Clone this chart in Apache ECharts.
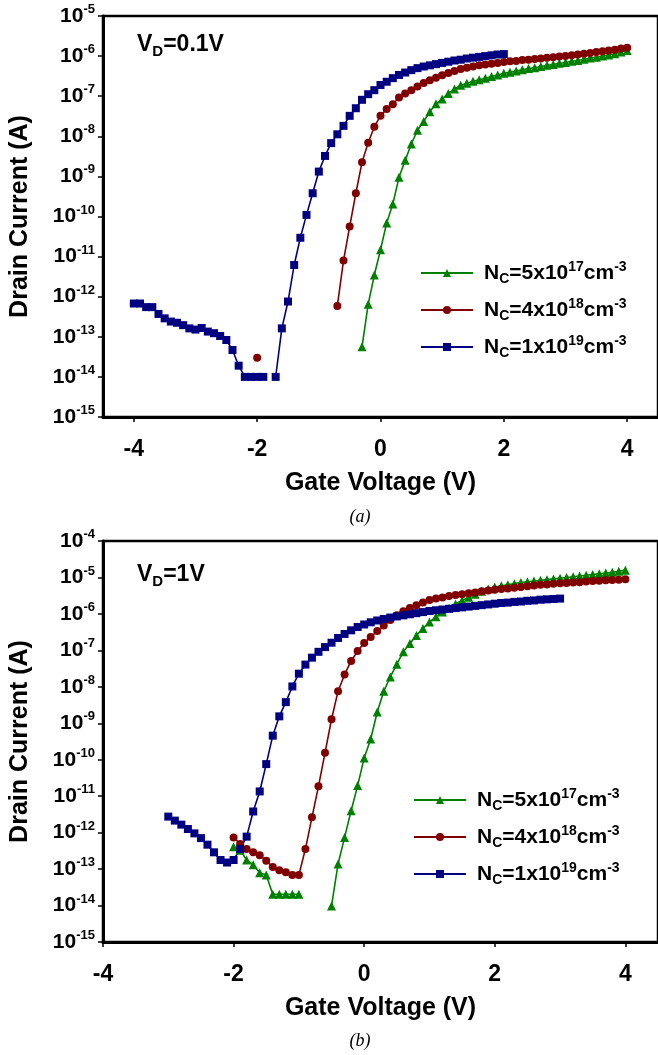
<!DOCTYPE html>
<html><head><meta charset="utf-8">
<script src="https://cdn.jsdelivr.net/npm/echarts@6/dist/echarts.min.js"></script>
<style>html,body{margin:0;padding:0;background:#fff}#c{width:658px;height:1055px}</style>
</head><body><div id="c"></div>
<script>
// ---------- DATA (gate voltage in V, drain current as log10(A)) ----------
const xTickValues = [-4, -2, 0, 2, 4];
const seriesNames = ['g', 'r', 'b'];
const legendLabels = {
  g: '{n|N}{sub|C}{n|=5x10}{sup|17}{n|cm}{sup|-3}',
  r: '{n|N}{sub|C}{n|=4x10}{sup|18}{n|cm}{sup|-3}',
  b: '{n|N}{sub|C}{n|=1x10}{sup|19}{n|cm}{sup|-3}'
};

// (a) VD = 0.1 V
const aBlueV = [-4.0,-3.9,-3.8,-3.7,-3.6,-3.5,-3.4,-3.3,-3.2,-3.1,
  -3.0,-2.9,-2.8,-2.7,-2.6,-2.5,-2.4,-2.3,-2.2,-2.1,
  -2.0,-1.9,-1.8,-1.7,-1.6,-1.5,-1.4,-1.3,-1.2,-1.1,
  -1.0,-0.9,-0.8,-0.7,-0.6,-0.5,-0.4,-0.3,-0.2,-0.1,
  0.0,0.1,0.2,0.3,0.4,0.5,0.6,0.7,0.8,0.9,
  1.0,1.1,1.2,1.3,1.4,1.5,1.6,1.7,1.8,1.9,2.0];
const aBlueLog = [-12.17,-12.17,-12.26,-12.26,-12.43,-12.54,-12.62,-12.65,-12.71,-12.79,
  -12.82,-12.78,-12.87,-12.91,-12.98,-13.08,-13.33,-13.72,-14.0,-14.0,
  -14.0,-14.0,null,-14.0,-12.79,-12.12,-11.21,-10.53,-9.96,-9.42,
  -8.88,-8.49,-8.17,-7.95,-7.74,-7.49,-7.30,-7.09,-6.95,-6.85,
  -6.72,-6.64,-6.55,-6.47,-6.41,-6.35,-6.30,-6.26,-6.23,-6.20,
  -6.17,-6.14,-6.11,-6.09,-6.06,-6.04,-6.02,-6.00,-5.98,-5.96,-5.95];

const aRedV = [-2.0,-1.9,
  -0.7,-0.6,-0.5,-0.4,-0.3,-0.2,-0.1,
  0.0,0.1,0.2,0.3,0.4,0.5,0.6,0.7,0.8,0.9,
  1.0,1.1,1.2,1.3,1.4,1.5,1.6,1.7,1.8,1.9,
  2.0,2.1,2.2,2.3,2.4,2.5,2.6,2.7,2.8,2.9,
  3.0,3.1,3.2,3.3,3.4,3.5,3.6,3.7,3.8,3.9,4.0];
const aRedLog = [-13.52,null,
  -12.23,-11.10,-10.25,-9.42,-8.65,-8.16,-7.76,
  -7.49,-7.32,-7.20,-7.03,-6.93,-6.85,-6.76,-6.67,-6.60,-6.54,
  -6.48,-6.42,-6.37,-6.32,-6.29,-6.26,-6.23,-6.21,-6.19,-6.17,
  -6.15,-6.13,-6.12,-6.10,-6.09,-6.07,-6.06,-6.04,-6.03,-6.01,
  -6.00,-5.98,-5.96,-5.94,-5.92,-5.90,-5.88,-5.86,-5.84,-5.81,-5.79];

const aGreenV = [-0.3,-0.2,-0.1,
  0.0,0.1,0.2,0.3,0.4,0.5,0.6,0.7,0.8,0.9,
  1.0,1.1,1.2,1.3,1.4,1.5,1.6,1.7,1.8,1.9,
  2.0,2.1,2.2,2.3,2.4,2.5,2.6,2.7,2.8,2.9,
  3.0,3.1,3.2,3.3,3.4,3.5,3.6,3.7,3.8,3.9,4.0];
const aGreenLog = [-13.25,-12.19,-11.46,
  -10.83,-10.16,-9.69,-9.02,-8.60,-8.19,-7.85,-7.63,-7.39,-7.19,
  -7.07,-6.93,-6.82,-6.73,-6.68,-6.63,-6.59,-6.55,-6.51,-6.47,
  -6.43,-6.40,-6.37,-6.34,-6.31,-6.29,-6.26,-6.23,-6.21,-6.18,
  -6.16,-6.13,-6.11,-6.08,-6.05,-6.03,-6.00,-5.97,-5.94,-5.90,-5.86];

// (b) VD = 1 V
const bBlueV = [-3.0,-2.9,-2.8,-2.7,-2.6,-2.5,-2.4,-2.3,-2.2,-2.1,
  -2.0,-1.9,-1.8,-1.7,-1.6,-1.5,-1.4,-1.3,-1.2,-1.1,
  -1.0,-0.9,-0.8,-0.7,-0.6,-0.5,-0.4,-0.3,-0.2,-0.1,
  0.0,0.1,0.2,0.3,0.4,0.5,0.6,0.7,0.8,0.9,
  1.0,1.1,1.2,1.3,1.4,1.5,1.6,1.7,1.8,1.9,
  2.0,2.1,2.2,2.3,2.4,2.5,2.6,2.7,2.8,2.9,3.0];
const bBlueLog = [-11.56,-11.67,-11.78,-11.90,-12.02,-12.15,-12.33,-12.54,-12.75,-12.82,
  -12.75,-12.45,-12.11,-11.42,-10.87,-10.12,-9.34,-8.81,-8.42,-7.99,
  -7.64,-7.39,-7.20,-7.04,-6.91,-6.79,-6.66,-6.55,-6.45,-6.36,
  -6.29,-6.23,-6.18,-6.14,-6.10,-6.07,-6.04,-6.01,-5.98,-5.95,
  -5.92,-5.90,-5.88,-5.86,-5.84,-5.82,-5.80,-5.78,-5.76,-5.74,
  -5.72,-5.70,-5.69,-5.67,-5.66,-5.64,-5.63,-5.61,-5.60,-5.59,-5.58];

const bRedV = [-2.0,-1.9,-1.8,-1.7,-1.6,-1.5,-1.4,-1.3,-1.2,-1.1,
  -1.0,-0.9,-0.8,-0.7,-0.6,-0.5,-0.4,-0.3,-0.2,-0.1,
  0.0,0.1,0.2,0.3,0.4,0.5,0.6,0.7,0.8,0.9,
  1.0,1.1,1.2,1.3,1.4,1.5,1.6,1.7,1.8,1.9,
  2.0,2.1,2.2,2.3,2.4,2.5,2.6,2.7,2.8,2.9,
  3.0,3.1,3.2,3.3,3.4,3.5,3.6,3.7,3.8,3.9,4.0];
const bRedLog = [-12.13,-12.31,-12.45,-12.54,-12.62,-12.77,-12.94,-13.03,-13.09,-13.16,
  -13.16,-12.45,-11.58,-10.73,-9.81,-8.89,-8.12,-7.66,-7.29,-7.02,
  -6.80,-6.63,-6.47,-6.32,-6.17,-6.04,-5.93,-5.84,-5.76,-5.69,
  -5.62,-5.58,-5.55,-5.51,-5.48,-5.46,-5.43,-5.41,-5.38,-5.36,
  -5.34,-5.32,-5.30,-5.28,-5.26,-5.24,-5.22,-5.20,-5.19,-5.17,
  -5.16,-5.15,-5.14,-5.13,-5.11,-5.10,-5.09,-5.08,-5.07,-5.06,-5.05];

const bGreenV = [-2.0,-1.9,-1.8,-1.7,-1.6,-1.5,-1.4,-1.3,-1.2,-1.1,-1.0,
  -0.9,
  -0.5,-0.4,-0.3,-0.2,-0.1,
  0.0,0.1,0.2,0.3,0.4,0.5,0.6,0.7,0.8,0.9,
  1.0,1.1,1.2,1.3,1.4,1.5,1.6,1.7,1.8,1.9,
  2.0,2.1,2.2,2.3,2.4,2.5,2.6,2.7,2.8,2.9,
  3.0,3.1,3.2,3.3,3.4,3.5,3.6,3.7,3.8,3.9,4.0];
const bGreenLog = [-12.39,-12.48,-12.75,-12.88,-13.10,-13.16,-13.69,-13.69,-13.69,-13.69,-13.69,
  null,
  -14.01,-12.86,-12.13,-11.40,-10.71,
  -9.95,-9.43,-8.69,-8.12,-7.73,-7.38,-7.04,-6.81,-6.59,-6.40,
  -6.22,-6.08,-5.95,-5.84,-5.73,-5.63,-5.54,-5.46,-5.38,-5.32,
  -5.26,-5.23,-5.20,-5.17,-5.14,-5.12,-5.10,-5.08,-5.06,-5.04,
  -5.02,-5.00,-4.98,-4.96,-4.94,-4.92,-4.90,-4.88,-4.86,-4.83,-4.80];

// ---------- CHART ----------
const FONT = '"Liberation Sans", Arial, Helvetica, sans-serif';
const GREEN = '#008000', RED = '#800000', BLUE = '#000080';
const chart = echarts.init(document.getElementById('c'), null, {renderer: 'canvas'});

function pairs(V, L) {
  return V.map((v, i) => [v, L[i] == null ? '-' : Math.pow(10, L[i])]);
}
function decadeLabel(v) {
  const e = Math.round(Math.log10(v));
  return '{b|10}{s|' + e + '}';
}
const legRich = {
  n: {fontFamily: FONT, fontWeight: 'bold', fontSize: 21, color: '#000', lineHeight: 26},
  sub: {fontFamily: FONT, fontWeight: 'bold', fontSize: 14, color: '#000', verticalAlign: 'bottom', lineHeight: 14},
  sup: {fontFamily: FONT, fontWeight: 'bold', fontSize: 14, color: '#000', verticalAlign: 'top', lineHeight: 14}
};
const vdRich = {
  v: {fontFamily: FONT, fontWeight: 'bold', fontSize: 23, color: '#000', lineHeight: 28},
  d: {fontFamily: FONT, fontWeight: 'bold', fontSize: 15, color: '#000', verticalAlign: 'bottom', lineHeight: 15}
};
function xAxisFor(gi, min, max) {
  return {
    type: 'value', gridIndex: gi, min: min, max: max,
    axisLine: {show: true, onZero: false, lineStyle: {color: '#000', width: 3}},
    axisTick: {show: true, customValues: xTickValues, length: 5, lineStyle: {color: '#000', width: 1.5}},
    axisLabel: {customValues: xTickValues, margin: 21, fontFamily: FONT, fontWeight: 'bold', fontSize: 23, color: '#000'},
    splitLine: {show: false},
    name: 'Gate Voltage (V)', nameLocation: 'middle', nameGap: 54,
    nameTextStyle: {fontFamily: FONT, fontWeight: 'bold', fontSize: 25, color: '#000'}
  };
}
function yAxisFor(gi, max) {
  return {
    type: 'log', logBase: 10, gridIndex: gi, min: 1e-15, max: max, interval: 1,
    axisLine: {show: true, onZero: false, lineStyle: {color: '#000', width: 3}},
    axisTick: {show: true, length: 5, lineStyle: {color: '#000', width: 1.5}},
    minorTick: {show: false}, splitLine: {show: false},
    axisLabel: {
      formatter: decadeLabel, margin: 8,
      rich: {
        b: {fontFamily: FONT, fontWeight: 'bold', fontSize: 21, color: '#000', lineHeight: 26},
        s: {fontFamily: FONT, fontWeight: 'bold', fontSize: 13, color: '#000', verticalAlign: 'top', lineHeight: 14}
      }
    },
    name: 'Drain Current (A)', nameLocation: 'middle', nameGap: 70, nameRotate: 90,
    nameTextStyle: {fontFamily: FONT, fontWeight: 'bold', fontSize: 25, color: '#000'}
  };
}
function lineSeries(name, gi, V, L, color, symbol, size) {
  return {
    name: name, type: 'line', xAxisIndex: gi, yAxisIndex: gi,
    data: pairs(V, L), symbol: symbol, symbolSize: size, showSymbol: true, showAllSymbol: true,
    connectNulls: false, lineStyle: {color: color, width: 1.6}, itemStyle: {color: color},
    emphasis: {disabled: true}, animation: false
  };
}
function legendAt(left, top) {
  return {
    data: seriesNames, left: left, top: top, orient: 'vertical', padding: 0,
    itemWidth: 52, itemHeight: 10, itemGap: 11, selectedMode: false,
    formatter: n => legendLabels[n],
    textStyle: {padding: [0, 0, 0, 6], rich: legRich}
  };
}

chart.setOption({
  backgroundColor: '#fff',
  animation: false,
  grid: [
    {left: 101, top: 16, width: 562, height: 401, show: true, borderColor: '#000', borderWidth: 2.5, backgroundColor: 'transparent'},
    {left: 101, top: 541, width: 563, height: 401, show: true, borderColor: '#000', borderWidth: 2.5, backgroundColor: 'transparent'}
  ],
  xAxis: [xAxisFor(0, -4.5, 4.5), xAxisFor(1, -4, 4.5)],
  yAxis: [yAxisFor(0, 1e-5), yAxisFor(1, 1e-4)],
  title: [
    {text: '{v|V}{d|D}{v|=0.1V}', left: 137, top: 31, padding: 0, textStyle: {rich: vdRich}},
    {text: '{v|V}{d|D}{v|=1V}', left: 137, top: 561, padding: 0, textStyle: {rich: vdRich}}
  ],
  legend: [legendAt(420, 260), legendAt(413, 787)],
  graphic: [
    {type: 'text', x: 360, y: 517, style: {text: '(a)', align: 'center', verticalAlign: 'middle', fontFamily: '"Liberation Serif", "Times New Roman", serif', fontStyle: 'italic', fontSize: 18, fill: '#000'}},
    {type: 'text', x: 360, y: 1041, style: {text: '(b)', align: 'center', verticalAlign: 'middle', fontFamily: '"Liberation Serif", "Times New Roman", serif', fontStyle: 'italic', fontSize: 18, fill: '#000'}}
  ],
  series: [
    lineSeries('g', 0, aGreenV, aGreenLog, GREEN, 'triangle', 9),
    lineSeries('r', 0, aRedV, aRedLog, RED, 'circle', 8),
    lineSeries('b', 0, aBlueV, aBlueLog, BLUE, 'rect', 8),
    lineSeries('g', 1, bGreenV, bGreenLog, GREEN, 'triangle', 9),
    lineSeries('r', 1, bRedV, bRedLog, RED, 'circle', 8),
    lineSeries('b', 1, bBlueV, bBlueLog, BLUE, 'rect', 8)
  ]
});
</script></body></html>
